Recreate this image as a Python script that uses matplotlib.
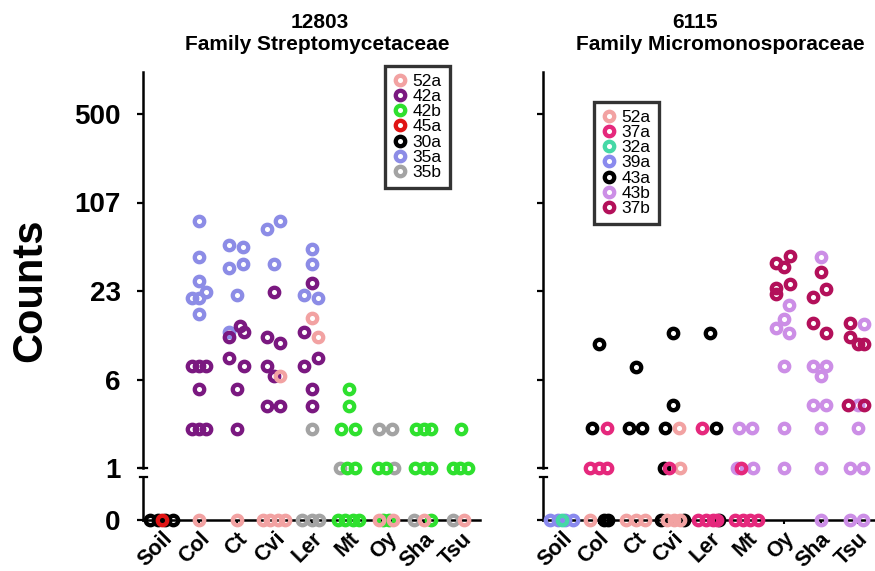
"""Open-ring strip chart of OTU counts per genotype, two families side by side,
with a broken y-axis (zero row below, log-like count scale above)."""

import numpy as np
import matplotlib
matplotlib.use("Agg")
import matplotlib.pyplot as plt
from matplotlib.lines import Line2D

plt.rcParams["font.family"] = ["Liberation Sans", "DejaVu Sans"]

CATEGORIES = ["Soil", "Col", "Ct", "Cvi", "Ler", "Mt", "Oy", "Sha", "Tsu"]
TICK_VALUES = [1, 6, 23, 107, 500]

# each point: (category, count, horizontal jitter in category units)
# ---- 12803, Family Streptomycetaceae
S12803_52A = [("Cvi", 6.3, 0.17), ("Ler", 15.3, 0.0), ("Ler", 11.4, 0.17),
              ("Col", 0, 0.0), ("Ct", 0, 0.0),
              ("Cvi", 0, -0.3), ("Cvi", 0, -0.1), ("Cvi", 0, 0.1), ("Cvi", 0, 0.3),
              ("Oy", 0, -0.19), ("Oy", 0, 0.17), ("Sha", 0, 0.0), ("Tsu", 0, 0.08)]
S12803_42A = [("Col", 7.4, -0.2), ("Col", 7.4, 0.0), ("Col", 7.4, 0.18), ("Col", 5.0, 0.0),
              ("Col", 2.2, -0.2), ("Col", 2.2, 0.0), ("Col", 2.2, 0.18),
              ("Ct", 13.5, 0.1), ("Ct", 12.3, 0.19), ("Ct", 11.4, -0.19), ("Ct", 8.3, -0.19),
              ("Ct", 7.4, 0.19), ("Ct", 5.0, 0.0), ("Ct", 2.2, 0.0),
              ("Cvi", 22.5, 0.0), ("Cvi", 11.4, -0.2), ("Cvi", 10.4, 0.17), ("Cvi", 7.4, -0.2),
              ("Cvi", 6.3, 0.0), ("Cvi", 3.5, -0.2), ("Cvi", 3.5, 0.17),
              ("Ler", 26.4, 0.0), ("Ler", 12.3, -0.2), ("Ler", 8.3, 0.17), ("Ler", 7.4, -0.2),
              ("Ler", 5.0, 0.0), ("Ler", 3.5, 0.0)]
S12803_42B = [("Mt", 5.0, 0.0), ("Mt", 3.5, 0.0), ("Mt", 2.2, -0.2), ("Mt", 2.2, 0.15),
              ("Mt", 1, -0.05), ("Mt", 1, 0.17), ("Oy", 1, -0.23), ("Oy", 1, 0.0),
              ("Sha", 2.2, -0.2), ("Sha", 2.2, 0.0), ("Sha", 2.2, 0.2),
              ("Sha", 1, -0.23), ("Sha", 1, 0.0), ("Sha", 1, 0.2),
              ("Tsu", 2.2, 0.0), ("Tsu", 1, -0.23), ("Tsu", 1, -0.03), ("Tsu", 1, 0.17),
              ("Mt", 0, -0.3), ("Mt", 0, -0.1), ("Mt", 0, 0.1), ("Mt", 0, 0.28),
              ("Oy", 0, -0.1), ("Oy", 0, 0.08), ("Sha", 0, 0.2)]
S12803_45A = [("Soil", 0, 0.0)]
S12803_30A = [("Soil", 0, -0.3), ("Soil", 0, -0.1), ("Soil", 0, 0.1), ("Soil", 0, 0.3)]
S12803_35A = [("Col", 78, 0.0), ("Col", 41.3, 0.0), ("Col", 27.5, 0.0), ("Col", 22.5, 0.18),
              ("Col", 20.7, -0.2), ("Col", 20.7, 0.0), ("Col", 16.2, 0.0),
              ("Ct", 51, -0.19), ("Ct", 49, 0.17), ("Ct", 34.3, -0.19), ("Ct", 36.5, 0.17),
              ("Ct", 21.5, 0.0), ("Ct", 12.3, -0.19),
              ("Cvi", 67.6, -0.2), ("Cvi", 78, 0.17), ("Cvi", 36.5, 0.0),
              ("Ler", 47.7, 0.0), ("Ler", 36.5, 0.0), ("Ler", 21.5, -0.2), ("Ler", 20.8, 0.17)]
S12803_35B = [("Ler", 2.2, 0.0), ("Mt", 1, -0.25), ("Oy", 2.2, -0.2), ("Oy", 2.2, 0.15),
              ("Oy", 1, 0.21), ("Ler", 0, -0.25), ("Ler", 0, 0.0), ("Ler", 0, 0.2),
              ("Sha", 0, -0.25), ("Tsu", 0, -0.23)]

# ---- 6115, Family Micromonosporaceae
S6115_52A = [("Cvi", 2.26, 0.17), ("Cvi", 1, 0.19), ("Col", 0, -0.22),
             ("Ct", 0, -0.25), ("Ct", 0, 0.0), ("Ct", 0, 0.25),
             ("Cvi", 0, -0.15), ("Cvi", 0, 0.05), ("Cvi", 0, 0.2)]
S6115_37A = [("Col", 2.26, 0.22), ("Ler", 2.26, -0.2),
             ("Col", 1, -0.22), ("Col", 1, 0.0), ("Col", 1, 0.22), ("Cvi", 1, -0.1), ("Mt", 1, -0.16),
             ("Ler", 0, -0.3), ("Ler", 0, -0.1), ("Ler", 0, 0.1), ("Ler", 0, 0.2),
             ("Mt", 0, -0.3), ("Mt", 0, -0.1), ("Mt", 0, 0.1), ("Mt", 0, 0.3)]
S6115_32A = [("Soil", 0, 0.0)]
S6115_39A = [("Soil", 0, -0.3), ("Soil", 0, -0.1), ("Soil", 0, 0.1), ("Soil", 0, 0.3)]
S6115_43A = [("Col", 10.3, 0.0), ("Ct", 7.3, 0.0), ("Cvi", 12.2, 0.0), ("Ler", 12.2, 0.0),
             ("Cvi", 3.55, 0.0), ("Col", 2.26, -0.17), ("Ct", 2.26, -0.18), ("Ct", 2.26, 0.18),
             ("Cvi", 2.26, -0.19), ("Ler", 2.26, 0.18), ("Cvi", 1, -0.23),
             ("Col", 0, 0.15), ("Col", 0, 0.25), ("Cvi", 0, -0.3), ("Cvi", 0, 0.3), ("Ler", 0, 0.27)]
S6115_43B = [("Mt", 2.26, -0.2), ("Mt", 2.26, 0.16), ("Mt", 1, -0.25), ("Mt", 1, 0.18),
             ("Oy", 2.26, 0.0), ("Oy", 1, 0.0), ("Oy", 7.4, 0.0), ("Oy", 18.6, 0.14),
             ("Oy", 15.0, 0.0), ("Oy", 13.1, -0.19), ("Oy", 12.2, 0.14),
             ("Sha", 2.26, 0.0), ("Sha", 1, 0.0), ("Sha", 7.4, -0.2), ("Sha", 7.4, 0.16),
             ("Sha", 6.3, 0.0), ("Sha", 3.55, -0.2), ("Sha", 3.55, 0.16), ("Sha", 41.5, 0.0),
             ("Sha", 0, 0.0),
             ("Tsu", 2.26, 0.0), ("Tsu", 1, -0.2), ("Tsu", 1, 0.15), ("Tsu", 3.55, 0.0),
             ("Tsu", 14.0, 0.17), ("Tsu", 0, -0.2), ("Tsu", 0, 0.15)]
S6115_37B = [("Oy", 37.6, -0.2), ("Oy", 34.7, 0.0), ("Oy", 42.2, 0.17),
             ("Oy", 24.3, -0.2), ("Oy", 22.1, -0.2), ("Oy", 25.9, 0.17),
             ("Sha", 32.1, 0.0), ("Sha", 21.1, -0.2), ("Sha", 23.7, 0.16),
             ("Sha", 14.2, -0.2), ("Sha", 12.2, 0.16),
             ("Tsu", 14.2, -0.19), ("Tsu", 11.5, -0.19), ("Tsu", 10.3, 0.0), ("Tsu", 10.3, 0.17),
             ("Tsu", 3.55, -0.25), ("Tsu", 3.55, 0.18)]

C_PINK = "#f2a2a2"
C_PURPLE = "#7a1880"
C_GREEN = "#2ee02e"
C_RED = "#e01414"
C_BLACK = "#000000"
C_LAVBLUE = "#8c8ce6"
C_GRAY = "#a3a3a3"
C_MAGENTA = "#e5287c"
C_TEAL = "#45d8a6"
C_BLUE = "#8a8aee"
C_ORCHID = "#cc8ee6"
C_WINE = "#b3105a"

PANELS = [
    {
        "title1": "12803", "title2": "Family Streptomycetaceae",
        "series": {"52a": (C_PINK, S12803_52A), "42a": (C_PURPLE, S12803_42A),
                   "42b": (C_GREEN, S12803_42B), "45a": (C_RED, S12803_45A),
                   "30a": (C_BLACK, S12803_30A), "35a": (C_LAVBLUE, S12803_35A),
                   "35b": (C_GRAY, S12803_35B)},
        "legend": ["52a", "42a", "42b", "45a", "30a", "35a", "35b"],
        "draw": ["30a", "45a", "35b", "35a", "42a", "42b", "52a"],
    },
    {
        "title1": "6115", "title2": "Family Micromonosporaceae",
        "series": {"52a": (C_PINK, S6115_52A), "37a": (C_MAGENTA, S6115_37A),
                   "32a": (C_TEAL, S6115_32A), "39a": (C_BLUE, S6115_39A),
                   "43a": (C_BLACK, S6115_43A), "43b": (C_ORCHID, S6115_43B),
                   "37b": (C_WINE, S6115_37B)},
        "legend": ["52a", "37a", "32a", "39a", "43a", "43b", "37b"],
        "draw": ["39a", "32a", "43a", "43b", "52a", "37a", "37b"],
    },
]

# ---- layout (pixels)
W, H, DPI = 875, 571, 100
PANEL_X = [(143, 480), (543, 876)]
UPPER_Y = (72, 468)
LOWER_Y = (477, 520)
TICK_STEP_PX = 88.5
LEGEND_AT = [(385, 66), (594, 102)]
TITLE_X = [(320, 317), (695, 720)]

LOG_T = np.log(TICK_VALUES)
POS = np.arange(len(TICK_VALUES), dtype=float)


def _fwd(v):
    lv = np.log(np.clip(np.asarray(v, dtype=float), 1e-6, None))
    mid = np.interp(lv, LOG_T, POS)
    lo = (lv - LOG_T[0]) / (LOG_T[1] - LOG_T[0])
    hi = POS[-1] + (lv - LOG_T[-1]) / (LOG_T[-1] - LOG_T[-2])
    return np.where(lv < LOG_T[0], lo, np.where(lv > LOG_T[-1], hi, mid))


def _inv(u):
    u = np.asarray(u, dtype=float)
    mid = np.interp(u, POS, LOG_T)
    lo = LOG_T[0] + u * (LOG_T[1] - LOG_T[0])
    hi = LOG_T[-1] + (u - POS[-1]) * (LOG_T[-1] - LOG_T[-2])
    return np.exp(np.where(u < 0, lo, np.where(u > POS[-1], hi, mid)))


def _rect(x0, x1, y0, y1):
    return [x0 / W, 1 - y1 / H, (x1 - x0) / W, (y1 - y0) / H]


RING = dict(marker="o", ls="none", mfc="none", ms=6.8, mew=3.1)

fig = plt.figure(figsize=(W / DPI, H / DPI), dpi=DPI)
u_top = (UPPER_Y[1] - UPPER_Y[0]) / TICK_STEP_PX

for i, panel in enumerate(PANELS):
    x0, x1 = PANEL_X[i]
    ax_hi = fig.add_axes(_rect(x0, x1, *UPPER_Y))
    ax_lo = fig.add_axes(_rect(x0, x1, *LOWER_Y))

    for ax in (ax_hi, ax_lo):
        ax.set_xlim(-0.5, len(CATEGORIES) - 0.5)
        for s in ("top", "right"):
            ax.spines[s].set_visible(False)
        ax.spines["left"].set_linewidth(1.8)
        ax.tick_params(axis="y", direction="out", length=4, width=1.6,
                       labelsize=20, pad=12)

    ax_hi.set_yscale("function", functions=(_fwd, _inv))
    ax_hi.set_ylim(1, float(_inv(u_top)))
    ax_hi.set_yticks(TICK_VALUES)
    ax_hi.spines["bottom"].set_visible(False)
    ax_hi.set_xticks([])

    ax_lo.set_ylim(0, 1)
    ax_lo.set_yticks([0])
    ax_lo.spines["bottom"].set_linewidth(1.8)
    ax_lo.set_xticks(range(len(CATEGORIES)))
    ax_lo.tick_params(axis="x", direction="out", length=3, width=1.5, pad=3)
    ax_lo.set_xticklabels(CATEGORIES, rotation=45, ha="right", va="top",
                          rotation_mode="anchor", fontsize=15.5, fontweight="bold")

    if i == 0:
        ax_hi.set_yticklabels([str(v) for v in TICK_VALUES], fontweight="bold")
        ax_lo.set_yticklabels(["0"], fontweight="bold")
    else:
        ax_hi.set_yticklabels([])
        ax_lo.set_yticklabels([])

    # break caps at the spine ends
    cap = 3.5 / (x1 - x0)
    ax_hi.plot([-cap, cap], [0, 0], transform=ax_hi.transAxes, color="black",
               lw=1.6, clip_on=False)
    ax_lo.plot([-cap, cap], [1, 1], transform=ax_lo.transAxes, color="black",
               lw=1.6, clip_on=False)

    for key in panel["draw"]:
        color, pts = panel["series"][key]
        xs = np.array([CATEGORIES.index(c) + dx for c, _, dx in pts])
        ys = np.array([v for _, v, _ in pts], dtype=float)
        zero = ys == 0
        if (~zero).any():
            ax_hi.plot(xs[~zero], ys[~zero], mec=color, clip_on=False, zorder=3, **RING)
        if zero.any():
            ax_lo.plot(xs[zero], ys[zero], mec=color, clip_on=False, zorder=3, **RING)

    handles = [Line2D([], [], mec=panel["series"][k][0], **RING) for k in panel["legend"]]
    lx, ly = LEGEND_AT[i]
    leg = fig.legend(handles, panel["legend"], loc="upper left",
                     bbox_to_anchor=(lx / W, 1 - ly / H), bbox_transform=fig.transFigure,
                     fontsize=12.5, frameon=True, fancybox=False, edgecolor="black",
                     handlelength=0.8, handletextpad=0.35, labelspacing=0.0,
                     borderpad=0.45, borderaxespad=0)
    leg.get_frame().set_linewidth(2.4)

    tx1, tx2 = TITLE_X[i]
    fig.text(tx1 / W, 1 - 22 / H, panel["title1"], ha="center", va="center",
             fontsize=15, fontweight="bold")
    fig.text(tx2 / W, 1 - 45 / H, panel["title2"], ha="center", va="center",
             fontsize=15, fontweight="bold")

fig.text(30 / W, 1 - 290 / H, "Counts", rotation=90, ha="center", va="center",
         fontsize=30, fontweight="bold")

fig.savefig("out.png", dpi=DPI)
